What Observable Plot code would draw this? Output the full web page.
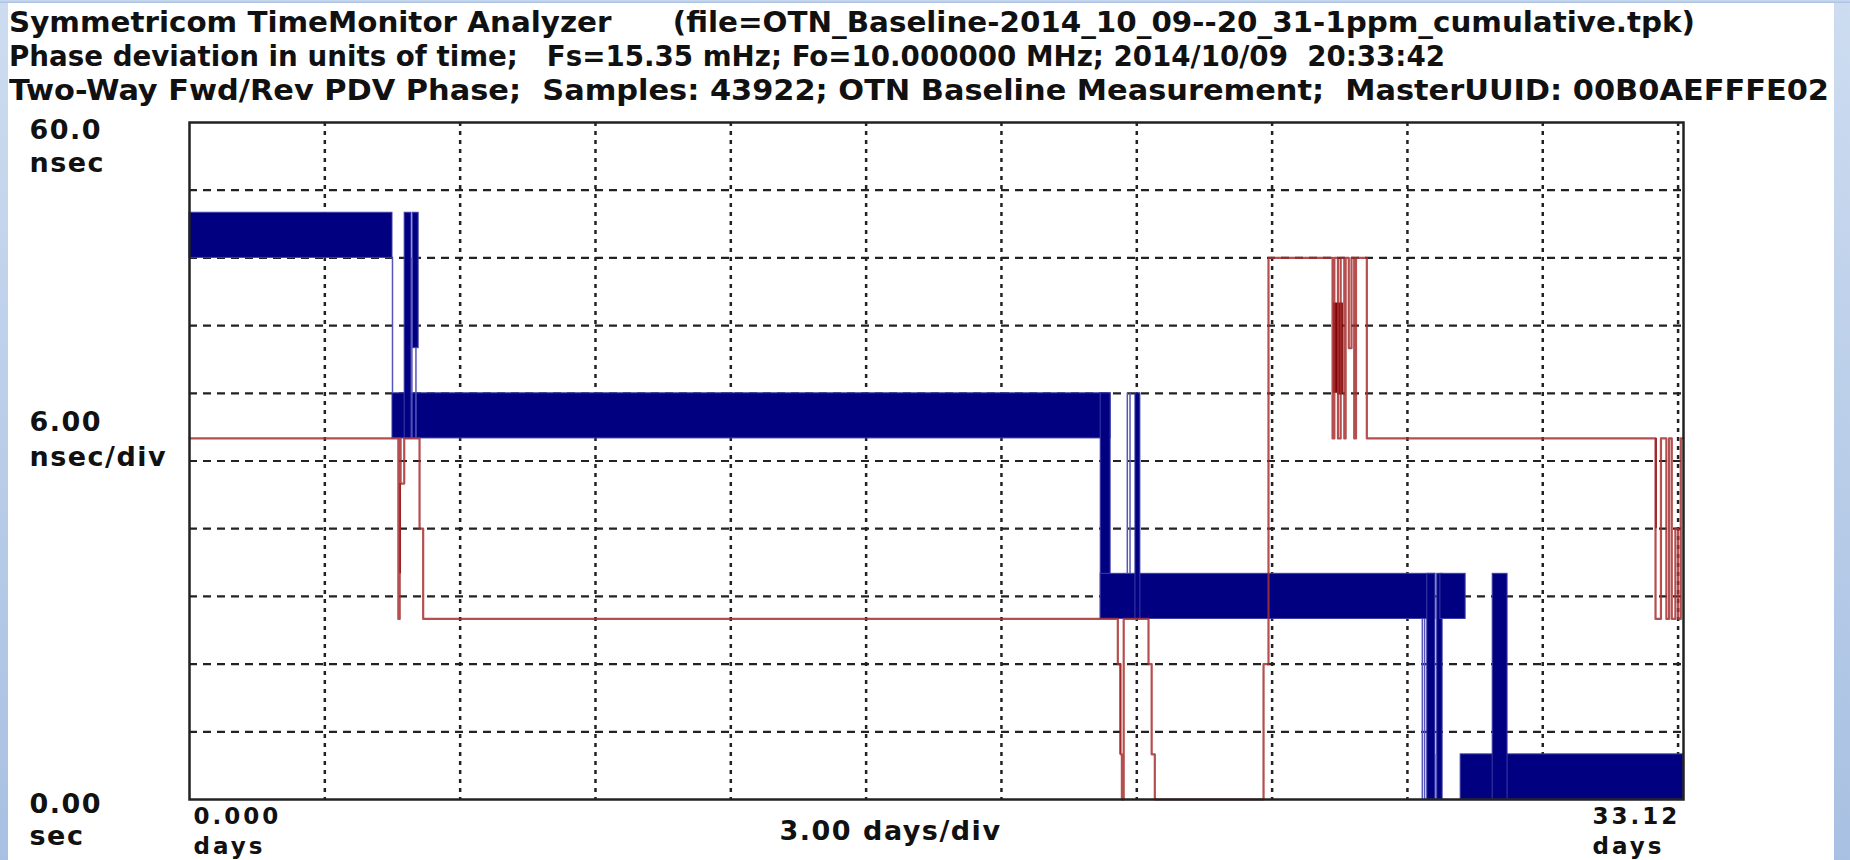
<!DOCTYPE html>
<html><head><meta charset="utf-8">
<script src="https://cdn.jsdelivr.net/npm/d3@7"></script>
<script src="https://cdn.jsdelivr.net/npm/@observablehq/plot@0.6"></script>
<style>
html,body{margin:0;padding:0;background:#fff;}
#page{position:relative;width:1850px;height:860px;overflow:hidden;background:#fff;}
#titles{position:absolute;left:9px;top:5px;width:1825px;height:103px;overflow:hidden;font-family:"Liberation Sans Narrow","DejaVu Sans Condensed",sans-serif;font-weight:bold;font-size:29px;color:#111;white-space:pre;line-height:34px;}
#titles .ln{display:block;width:max-content;height:34px;transform-origin:0 0;}
#chart{position:absolute;left:0;top:108px;}
.strip{position:absolute;background:linear-gradient(#cddcf0,#a8c0e2);}
</style>
</head><body>
<div id="page">
  <div id="titles"></div>
  <div id="chart"></div>
  <div class="strip" style="left:0;top:0;width:8px;height:860px"></div>
  <div class="strip" style="left:1834px;top:0;width:16px;height:860px"></div>
  <div class="strip" style="left:0;top:0;width:1850px;height:3px"></div>
</div>
<script>
// ---- text ----
const titleLines = [
  "Symmetricom TimeMonitor Analyzer      (file=OTN_Baseline-2014_10_09--20_31-1ppm_cumulative.tpk)",
  "Phase deviation in units of time;   Fs=15.35 mHz; Fo=10.000000 MHz; 2014/10/09  20:33:42",
  "Two-Way Fwd/Rev PDV Phase;  Samples: 43922; OTN Baseline Measurement;  MasterUUID: 00B0AEFFFE02"
];
const titleWidths = [1686, 1436, 1820];   // on-screen width of each title line in the picture
const yTopLabel = ["60.0", "nsec"];
const yMidLabel = ["6.00", "nsec/div"];
const yBottomLabel = ["0.00", "sec"];
const xLeftLabel = ["0.000", "days"];
const xMidLabel = ["3.00 days/div"];
const xRightLabel = ["33.12", "days"];

// ---- axes / grid (days, nsec) ----
const xDomain = [0, 33.12];
const yDomain = [0, 60];
const xGridDays = [3, 6, 9, 12, 15, 18, 21, 24, 27, 30, 33];
const yGridNs = [6, 12, 18, 24, 30, 36, 42, 48, 54];

// ---- blue trace: envelope bands [startDay, endDay, lowNs, highNs] ----
const blueBands = [
  [0, 4.50, 48, 52],
  [4.50, 20.42, 32, 36],
  [4.77, 4.92, 32, 52],
  [4.95, 5.08, 40, 52],
  [20.20, 20.42, 16, 36],
  [20.20, 27.62, 16, 20],
  [20.97, 21.08, 16, 36],
  [27.44, 27.62, 0, 20],
  [27.66, 27.78, 0, 20],
  [27.73, 28.29, 16, 20],
  [28.18, 33.12, 0, 4],
  [28.89, 29.22, 0, 20]
];
// thin blue excursions [day, lowNs, highNs]
const blueThin = [
  [4.50, 36, 48],
  [4.93, 32, 48],
  [5.02, 32, 40],
  [20.79, 20, 36],
  [20.85, 20, 36],
  [27.33, 0, 16],
  [27.38, 0, 16],
  [27.64, 0, 4]
];

// ---- red trace: stepped path ----
const redDays = [0, 4.63, 4.63, 4.66, 4.66, 4.68, 4.68, 4.76, 4.76, 5.10, 5.10, 5.18, 5.18,
  20.58, 20.58, 20.64, 20.64, 20.67, 20.67, 20.71, 20.71, 21.26, 21.26, 21.33, 21.33, 21.40, 21.40,
  23.81, 23.81, 23.92, 23.92, 25.34, 25.34, 25.38, 25.38, 25.46, 25.46, 25.52, 25.52, 25.60, 25.60,
  25.63, 25.63, 25.70, 25.70, 25.76, 25.76, 25.82, 25.82, 25.86, 25.86, 26.10, 26.10,
  32.50, 32.50, 32.62, 32.62, 32.74, 32.74, 32.80, 32.80, 32.86, 32.86, 32.94, 32.94, 33.00, 33.00, 33.06, 33.06, 33.12];
const redNs = [32, 32, 16, 16, 32, 32, 28, 28, 32, 32, 24, 24, 16,
  16, 12, 12, 4, 4, 0, 0, 16, 16, 12, 12, 4, 4, 0,
  0, 12, 12, 48, 48, 32, 32, 48, 48, 32, 32, 48, 48, 32,
  32, 48, 48, 40, 40, 48, 48, 32, 32, 48, 48, 32,
  32, 16, 16, 32, 32, 16, 16, 32, 32, 16, 16, 24, 24, 16, 16, 32, 32];
// dense red bursts [startDay, endDay, lowNs, highNs]
const redDense = [
  [4.66, 4.70, 20, 28],
  [20.63, 20.66, 4, 12],
  [25.36, 25.58, 36, 44],
  [32.50, 32.54, 24, 32]
];

// ---- titles ----
const titlesEl = document.getElementById("titles");
titleLines.forEach((t, i) => {
  const ln = document.createElement("div");
  ln.className = "ln";
  const main = document.createElement("span");
  main.textContent = t;
  ln.appendChild(main);
  titlesEl.appendChild(ln);
  const w = main.getBoundingClientRect().width;
  ln.style.transform = `scaleX(${titleWidths[i] / w})`;
});

// ---- chart ----
const band = a => a.map(([x1, x2, lo, hi]) => ({x1, x2, lo, hi}));
const redPath = redDays.map((d, i) => ({d, v: redNs[i]}));
const thin = blueThin.map(([x, lo, hi]) => ({x, lo, hi}));

const labelFont = {fontSize: 27, fontWeight: "bold", fill: "#111"};
const smallFont = {fontSize: 23, fontWeight: "bold", fill: "#111"};

const chart = Plot.plot({
  width: 1850,
  height: 752,
  marginLeft: 189,
  marginRight: 167,
  marginTop: 14,
  marginBottom: 61,
  x: {domain: xDomain, axis: null},
  y: {domain: yDomain, axis: null},
  style: {fontFamily: "'DejaVu Sans', sans-serif", letterSpacing: "1.5px", background: "transparent", overflow: "visible"},
  marks: [
    Plot.ruleY(yGridNs, {stroke: "#222", strokeWidth: 2.2, strokeDasharray: "8,6"}),
    Plot.ruleX(xGridDays, {stroke: "#222", strokeWidth: 2.5, strokeDasharray: "4,5"}),
    Plot.rect(band(blueBands), {x1: "x1", x2: "x2", y1: "lo", y2: "hi", fill: "#000080", stroke: "#3c3ca8", strokeWidth: 1}),
    Plot.ruleX(thin, {x: "x", y1: "lo", y2: "hi", stroke: "#5555bb", strokeWidth: 1.5}),
    Plot.rect(band(redDense), {x1: "x1", x2: "x2", y1: "lo", y2: "hi", fill: "#7a0000"}),
    Plot.line(redPath, {x: "d", y: "v", stroke: "#a83030", strokeWidth: 2.2, strokeOpacity: 0.85}),
    Plot.frame({stroke: "#222", strokeWidth: 2.5}),
    Plot.text([yTopLabel.join("\n")], {frameAnchor: "top-left", textAnchor: "start", lineAnchor: "top", lineHeight: 1.22, dx: -160, dy: -7, ...labelFont}),
    Plot.text([yMidLabel.join("\n")], {frameAnchor: "left", textAnchor: "start", lineAnchor: "top", lineHeight: 1.3, dx: -160, dy: -55, ...labelFont}),
    Plot.text([yBottomLabel.join("\n")], {frameAnchor: "bottom-left", textAnchor: "start", lineAnchor: "top", lineHeight: 1.18, dx: -160, dy: -9, ...labelFont}),
    Plot.text([xLeftLabel[0]], {frameAnchor: "bottom-left", textAnchor: "start", lineAnchor: "top", dx: 4, dy: 8, ...smallFont}),
    Plot.text([xLeftLabel[1]], {frameAnchor: "bottom-left", textAnchor: "start", lineAnchor: "bottom", dx: 4, dy: 54, ...smallFont}),
    Plot.text(xMidLabel, {frameAnchor: "bottom", textAnchor: "middle", lineAnchor: "top", dx: -46, dy: 21, ...labelFont}),
    Plot.text([xRightLabel[0]], {frameAnchor: "bottom-right", textAnchor: "start", lineAnchor: "top", dx: -91, dy: 8, ...smallFont}),
    Plot.text([xRightLabel[1]], {frameAnchor: "bottom-right", textAnchor: "start", lineAnchor: "bottom", dx: -91, dy: 54, ...smallFont})
  ]
});
chart.querySelectorAll("text").forEach(t => {
  const s = t.textContent;
  if (s === "0.000" || s === "days" || s === "33.12") t.style.letterSpacing = "3px";
});
document.getElementById("chart").appendChild(chart);
</script>
</body></html>
